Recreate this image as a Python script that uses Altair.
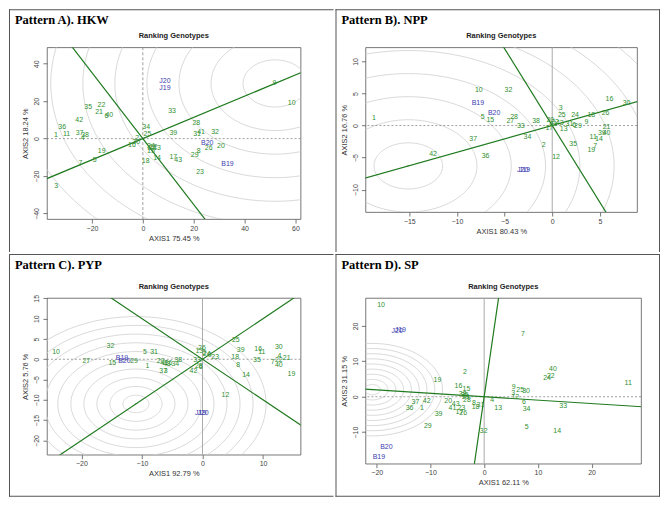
import altair as alt
import pandas as pd
import numpy as np

GREEN_TXT = "#2f8f2f"
LINE_GREEN = "#1f7a1f"
BLUE = "#3b3bb0"
FONT = "Liberation Sans"

# ---------------- Panel A : HKW ----------------
A_NAMES = ["1", "11", "36", "42", "37", "38", "4", "35", "22", "21", "40", "6", "19", "5", "7", "3",
           "2", "30", "16", "34", "25", "24", "27", "13", "15", "12", "14", "18", "17", "43", "39", "33",
           "28", "31", "41", "32", "26", "20", "8", "29", "23", "9", "10"]
A_X = [-34.2, -30.0, -31.7, -25.0, -24.9, -22.7, -23.6, -21.5, -16.3, -17.2, -13.2, -14.3, -16.2, -18.9, -24.5, -34.1,
       -2.2, -2.6, -4.3, 1.3, 1.8, 3.2, 3.5, 5.6, 3.2, 4.2, 5.6, 1.1, 12.0, 13.9, 12.0, 11.5,
       21.0, 21.3, 22.9, 28.4, 25.9, 30.7, 22.0, 20.4, 22.5, 51.7, 58.5]
A_Y = [1.9, 2.4, 6.4, 9.7, 3.1, 1.7, 0.3, 17.1, 17.8, 14.4, 12.7, 11.9, -6.4, -11.4, -13.0, -25.6,
       0.3, -2.0, -3.4, 6.4, 2.5, -3.7, -5.1, -5.1, -6.8, -4.3, -10.5, -12.2, -10.0, -11.7, 3.1, 14.7,
       8.1, 2.6, 3.7, 3.6, -4.9, -3.7, -6.8, -9.0, -17.6, 29.5, 19.2]
A_ENV = ["J20", "J19", "B20", "B19"]
A_ENV_X = [8.7, 8.7, 25.3, 33.3]
A_ENV_Y = [31.0, 27.3, -2.5, -13.6]
A_CENTER = [52.0, 29.5]
A_RING_STEP = 12.6
A_RING_COUNT = 8
A_XDOM = [-37.7, 62.0]
A_YDOM = [-43.0, 48.8]
A_XTICKS = [-20, 0, 20, 40, 60]
A_YTICKS = [-40, -20, 0, 20, 40]

# ---------------- Panel B : NPP ----------------
B_NAMES = ["1", "10", "32", "5", "15", "28", "27", "33", "38", "37", "34", "2", "36", "42", "12", "35",
           "19", "7", "11", "14", "39", "40", "21", "16", "30", "26", "18", "9", "24", "25", "3", "22",
           "43", "13", "31", "6", "29", "17", "41", "20"]
B_X = [-18.7, -7.7, -4.6, -7.3, -6.5, -4.0, -4.4, -3.3, -1.7, -8.3, -2.6, -0.9, -7.0, -12.5, 0.4, 2.2,
       4.1, 4.5, 4.3, 4.9, 5.2, 5.7, 5.7, 6.0, 7.8, 5.6, 4.1, 3.6, 2.4, 1.0, 0.9, 0.3,
       0.8, 1.2, 1.8, 2.3, 2.7, -0.3, 0.1, -0.2]
B_Y = [1.2, 5.6, 5.5, 1.4, 0.8, 1.3, 0.7, -0.1, 0.7, -2.1, -1.8, -3.0, -4.8, -4.4, -4.9, -2.9,
       -3.8, -3.2, -1.8, -2.1, -1.2, -1.2, -0.3, 4.2, 3.5, 1.9, 1.6, 0.5, 1.6, 1.6, 2.7, 0.6,
       0.4, -0.5, 0.3, 0.1, -0.1, -0.4, 0.3, 0.9]
B_ENV = ["B19", "B20", "J20", "J19"]
B_ENV_X = [-7.8, -6.1, -3.1, -2.9]
B_ENV_Y = [3.5, 2.0, -6.9, -6.9]
B_CENTER = [-15.1, -6.3]
B_RING_STEP = 3.6
B_RING_COUNT = 8
B_XDOM = [-19.6, 8.9]
B_YDOM = [-13.5, 12.2]
B_XTICKS = [-15, -10, -5, 0, 5]
B_YTICKS = [-10, -5, 0, 5, 10]

# ---------------- Panel C : PYP ----------------
C_NAMES = ["10", "27", "32", "15", "29", "5", "31", "1", "20", "41", "43", "38", "34", "36", "37", "3",
           "42", "33", "6", "28", "13", "26", "2", "24", "9", "23", "25", "39", "18", "8", "14", "16",
           "11", "30", "4", "21", "35", "7", "22", "40", "19", "12"]
C_X = [-24.2, -19.2, -15.2, -14.9, -11.3, -9.5, -8.0, -9.1, -6.9, -6.3, -5.9, -4.0, -4.5, -5.6, -6.5, -6.1,
       -1.5, -0.9, -0.3, -0.6, -0.5, -0.1, 0.3, 0.7, 1.2, 2.1, 5.5, 6.3, 5.4, 5.9, 7.2, 9.2,
       9.8, 12.6, 12.7, 13.9, 9.0, 11.6, 12.6, 12.6, 14.7, 3.8]
C_Y = [1.7, -0.5, 3.3, -0.9, -0.5, 1.7, 1.7, -1.7, -0.5, -0.9, -1.1, -0.1, -1.1, -0.9, -2.9, -3.0,
       -2.9, -0.3, -1.9, -1.6, 2.1, 2.8, 1.5, 1.2, 1.0, 0.5, 4.8, 2.4, 0.6, -1.4, -3.8, 2.5,
       1.8, 2.9, 0.8, 0.2, -0.2, -0.6, -0.2, -1.3, -3.6, -8.7]
C_ENV = ["B19", "B20", "J19", "J20"]
C_ENV_X = [-13.3, -12.9, -0.3, 0.1]
C_ENV_Y = [0.2, -0.5, -13.3, -13.3]
C_CENTER = [-11.0, -11.0]
C_RING_STEP = 2.15
C_RING_COUNT = 10
C_XDOM = [-25.7, 16.2]
C_YDOM = [-23.5, 15.1]
C_XTICKS = [-20, -10, 0, 10]
C_YTICKS = [-20, -15, -10, -5, 0, 5, 10, 15]

# ---------------- Panel D : SP ----------------
D_NAMES = ["10", "7", "40", "22", "24", "11", "9", "25", "30", "3", "12", "6", "34", "33", "5", "14",
           "13", "4", "32", "2", "19", "16", "15", "38", "35", "21", "28", "8", "18", "31", "20", "43",
           "41", "23", "17", "26", "37", "42", "36", "1", "39", "29"]
D_X = [-19.2, 7.2, 12.8, 12.4, 11.7, 26.8, 5.5, 6.7, 7.8, 5.4, 5.8, 7.4, 7.9, 14.7, 7.9, 13.6,
       2.6, 1.5, -0.1, -3.6, -8.7, -4.8, -3.3, -4.0, -3.6, -3.4, -3.2, -1.9, -1.6, -0.7, -6.7, -5.3,
       -5.9, -4.2, -4.6, -3.9, -12.8, -10.7, -13.9, -11.6, -8.5, -10.5]
D_Y = [26.0, 17.7, 7.7, 5.9, 5.2, 3.9, 2.8, 2.0, 1.6, 1.1, 0.0, -1.5, -3.6, -2.7, -8.6, -9.8,
       -3.2, -0.9, -9.8, 7.0, 4.7, 3.0, 2.1, 0.8, 0.6, -0.1, -1.0, -1.9, -2.8, -2.3, -1.3, -2.1,
       -3.3, -3.3, -4.2, -4.5, -1.4, -1.2, -3.2, -3.3, -5.0, -8.2]
D_ENV = ["J20", "J19", "B20", "B19"]
D_ENV_X = [-16.2, -15.6, -18.2, -19.6]
D_ENV_Y = [18.7, 18.9, -14.3, -17.1]
D_CENTER = [-20.8, 2.0]
D_RING_STEP = 1.45
D_RING_COUNT = 9
D_XDOM = [-22.1, 29.2]
D_YDOM = [-18.9, 27.9]
D_XTICKS = [-20, -10, 0, 10, 20]
D_YTICKS = [-10, 0, 10, 20]

ONE = pd.DataFrame({"a": [0]})


def panel(title, xtitle, ytitle, names, xs, ys, env, ex, ey, center, step, count,
          xdom, ydom, xticks, yticks, W, H, L, T, R, B, vdash, right_edge, bottom_edge):
    lab = pd.DataFrame({
        "name": names + env,
        "x": xs + ex,
        "y": ys + ey,
        "kind": ["G"] * len(names) + ["E"] * len(env),
    })
    xsc = alt.Scale(domain=xdom, nice=False, zero=False)
    ysc = alt.Scale(domain=ydom, nice=False, zero=False)
    common = dict(grid=False, domain=False, tickSize=4, tickColor="#555", tickWidth=0.8,
                  labelFont=FONT, labelFontSize=7, labelColor="#444",
                  titleFont=FONT, titleFontSize=7.5, titleFontWeight="normal", titleColor="#333")
    xaxis = alt.Axis(values=xticks, title=xtitle, labelPadding=1, titlePadding=3, **common)
    yaxis = alt.Axis(values=yticks, title=ytitle, labelAngle=270, labelAlign="center",
                     labelBaseline="bottom", labelPadding=3, titlePadding=3, **common)

    def X(f):
        return alt.X(f, type="quantitative", scale=xsc, axis=xaxis)

    def Y(f):
        return alt.Y(f, type="quantitative", scale=ysc, axis=yaxis)

    cx, cy = center
    ang = np.radians(np.arange(0, 361, 3))
    rows = []
    for i in range(1, count + 1):
        r = step * i
        for k, a in enumerate(ang):
            rows.append({"x": cx + r * np.cos(a), "y": cy + r * np.sin(a), "ring": i, "k": k})
    rings_df = pd.DataFrame(rows)

    lines_df = pd.DataFrame({
        "x": [-30 * cx, 30 * cx, 30 * cy, -30 * cy],
        "y": [-30 * cy, 30 * cy, -30 * cx, 30 * cx],
        "line": ["a", "a", "p", "p"],
        "k": [0, 1, 0, 1],
    })

    rings = alt.Chart(rings_df).mark_line(clip=True, color="#cfcfcf", strokeWidth=0.8).encode(
        x=X("x"), y=Y("y"), detail="ring:N", order="k:Q")
    zero = pd.DataFrame({"x": [0], "y": [0]})
    hz = alt.Chart(zero).mark_rule(color="#888", strokeWidth=0.8, strokeDash=[2, 2]).encode(y=Y("y"))
    if vdash:
        vt = alt.Chart(zero).mark_rule(color="#888", strokeWidth=0.8, strokeDash=[3, 2]).encode(x=X("x"))
    else:
        vt = alt.Chart(zero).mark_rule(color="#aaa", strokeWidth=1.0).encode(x=X("x"))
    lines = alt.Chart(lines_df).mark_line(clip=True, color=LINE_GREEN, strokeWidth=1.2).encode(
        x=X("x"), y=Y("y"), detail="line:N", order="k:Q")

    sx = W / (xdom[1] - xdom[0])
    sy = H / (ydom[1] - ydom[0])
    angle = float(np.degrees(np.arctan2(cx * sx, cy * sy))) % 360
    marker = alt.Chart(pd.DataFrame({"x": [cx], "y": [cy]})).mark_point(
        shape="arrow", size=18, filled=True, color=LINE_GREEN, angle=angle, clip=True).encode(
        x=X("x"), y=Y("y"))

    text = alt.Chart(lab).mark_text(fontSize=7, font=FONT, clip=True).encode(
        x=X("x"), y=Y("y"), text="name:N",
        color=alt.Color("kind:N", scale=alt.Scale(domain=["G", "E"], range=[GREEN_TXT, BLUE]), legend=None))

    ttl = alt.Chart(ONE).mark_text(text=title, font="Liberation Serif", fontSize=12.5, fontWeight="bold",
                                   align="left", baseline="alphabetic", color="black").encode(
        x=alt.value(-L + 6), y=alt.value(-T + 15))
    rk = alt.Chart(ONE).mark_text(text="Ranking Genotypes", font=FONT, fontSize=7.5, fontWeight="bold",
                                  align="center", baseline="middle", color="#222").encode(
        x=alt.value(W / 2), y=alt.value(-11))

    edges = [(-L, W + R, -T, -T + 1), (-L, -L + 1, -T, H + B)]
    if right_edge:
        edges.append((W + R - 1, W + R, -T, H + B))
    if bottom_edge:
        edges.append((-L, W + R, H + B - 1, H + B))
    frame_layers = [
        alt.Chart(ONE).mark_rect(color="#555", strokeWidth=0).encode(
            x=alt.value(e[0]), x2=alt.value(e[1]), y=alt.value(e[2]), y2=alt.value(e[3]))
        for e in edges
    ]

    return alt.layer(rings, hz, vt, lines, marker, text, ttl, rk, *frame_layers).properties(width=W, height=H)


pA = panel("Pattern A). HKW", "AXIS1 75.45 %", "AXIS2 18.24 %", A_NAMES, A_X, A_Y, A_ENV, A_ENV_X, A_ENV_Y,
           A_CENTER, A_RING_STEP, A_RING_COUNT, A_XDOM, A_YDOM, A_XTICKS, A_YTICKS,
           254, 172, 38, 38, 33, 33, True, False, False)
pB = panel("Pattern B). NPP", "AXIS1 80.43 %", "AXIS2 16.76 %", B_NAMES, B_X, B_Y, B_ENV, B_ENV_X, B_ENV_Y,
           B_CENTER, B_RING_STEP, B_RING_COUNT, B_XDOM, B_YDOM, B_XTICKS, B_YTICKS,
           272, 165, 30, 38, 23, 40, False, True, False)
pC = panel("Pattern C). PYP", "AXIS1 92.79 %", "AXIS2 5.76 %", C_NAMES, C_X, C_Y, C_ENV, C_ENV_X, C_ENV_Y,
           C_CENTER, C_RING_STEP, C_RING_COUNT, C_XDOM, C_YDOM, C_XTICKS, C_YTICKS,
           254, 157, 38, 44, 33, 42, False, False, True)
pD = panel("Pattern D). SP", "AXIS1 62.11 %", "AXIS2 31.15 %", D_NAMES, D_X, D_Y, D_ENV, D_ENV_X, D_ENV_Y,
           D_CENTER, D_RING_STEP, D_RING_COUNT, D_XDOM, D_YDOM, D_XTICKS, D_YTICKS,
           276, 166, 30, 44, 19, 33, False, True, True)

top = alt.hconcat(pA, pB, spacing=0)
bottom = alt.hconcat(pC, pD, spacing=0)
chart = alt.vconcat(top, bottom, spacing=0).properties(padding=0, background="white").configure_view(
    stroke="#555", strokeWidth=0.8)

chart.save("out.html", embed_options={"renderer": "svg", "actions": False})
